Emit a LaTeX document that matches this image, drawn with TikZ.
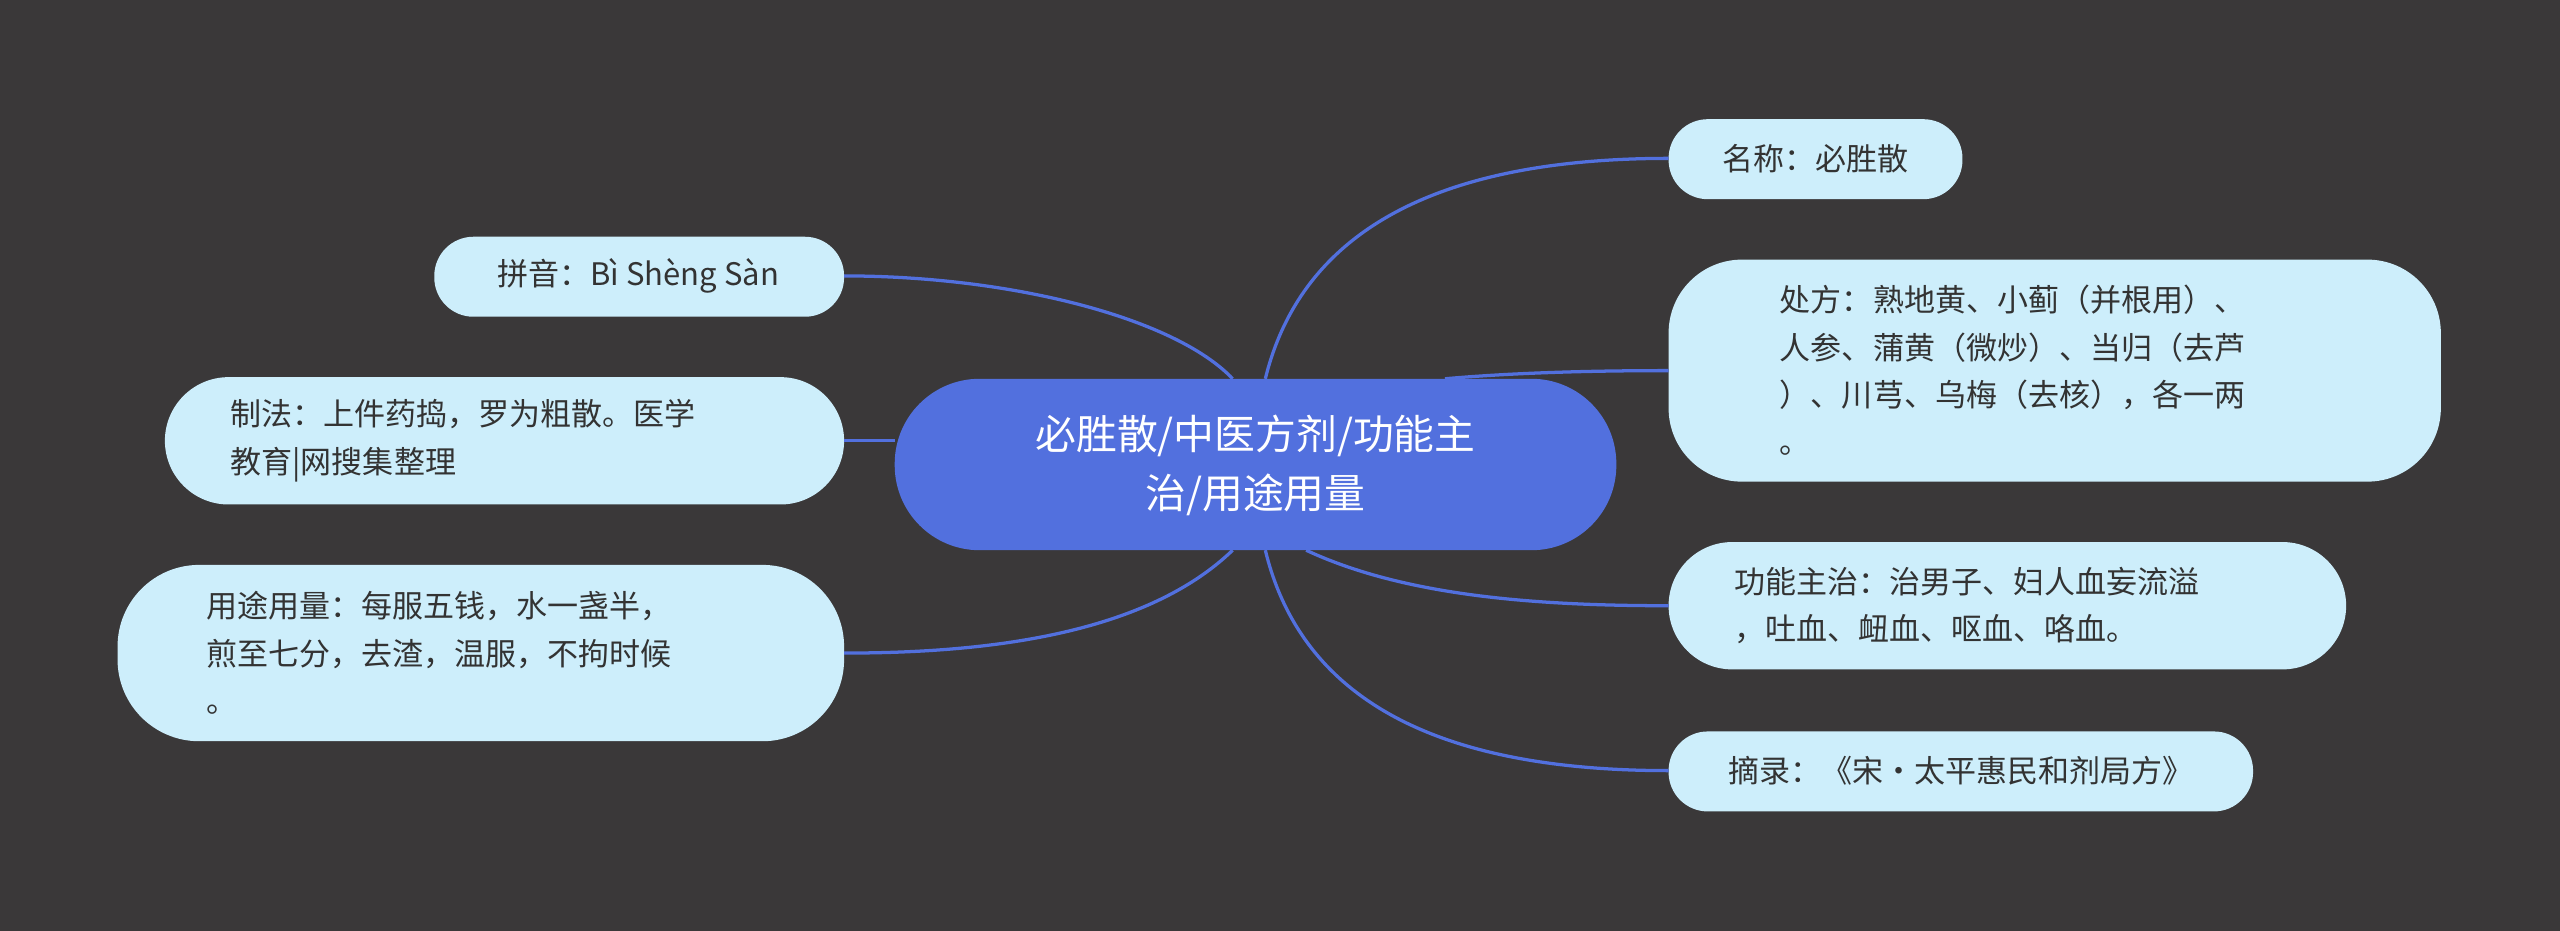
\documentclass[tikz,border=0pt]{standalone}
\usepackage{fontspec}
\setmainfont{Noto Sans CJK SC}
\begin{document}
\begin{tikzpicture}[x=1pt,y=-1pt,
  leaf/.style={fill=leafc,draw=none,text=txt,font=\fontsize{19}{29}\selectfont,align=left,inner sep=0pt},
  link/.style={draw=linec,line width=2pt}]
\definecolor{bgc}{HTML}{3A3839}
\definecolor{leafc}{HTML}{CDEEFB}
\definecolor{linec}{HTML}{5270DE}
\definecolor{cen}{HTML}{5270DE}
\definecolor{txt}{HTML}{333333}
\fill[bgc] (0,0) rectangle (1568,570);
\useasboundingbox (0,0) rectangle (1568,570);
% boxes
\fill[leafc,rounded corners=24] (1022,73) rectangle (1202,122);
\fill[leafc,rounded corners=45] (1022,159) rectangle (1495,295);
\fill[leafc,rounded corners=39] (1022,332) rectangle (1437,410);
\fill[leafc,rounded corners=24] (1022,448) rectangle (1380,497);
\fill[leafc,rounded corners=24] (266,145) rectangle (517,194);
\fill[leafc,rounded corners=39] (101,231) rectangle (517,309);
\fill[leafc,rounded corners=50] (72,346) rectangle (517,454);
\fill[cen,rounded corners=52] (548,232) rectangle (990,337);
% connector anchors
\coordinate (c1) at (775,232); \coordinate (c2) at (885,232);
\coordinate (c3) at (800,337); \coordinate (c4) at (775,337);
\coordinate (c5) at (755,232); \coordinate (c6) at (548,270);
\coordinate (c7) at (755,337);
\coordinate (r1) at (1022,97); \coordinate (r2) at (1022,227);
\coordinate (r3) at (1022,371); \coordinate (r4) at (1022,472);
\coordinate (l1) at (517,169); \coordinate (l2) at (517,270);
\coordinate (l3) at (517,400);
\draw[link] (c1) .. controls (800,130) and (900,97) .. (r1);
\draw[link] (c2) .. controls (930,228) and (980,227) .. (r2);
\draw[link] (c3) .. controls (860,365) and (940,371) .. (r3);
\draw[link] (c4) .. controls (800,440) and (900,472) .. (r4);
\draw[link] (c5) .. controls (720,195) and (620,169) .. (l1);
\draw[link] (c6) -- (l2);
\draw[link] (c7) .. controls (700,390) and (600,400) .. (l3);
% texts
\node[text=white,font=\fontsize{25}{36}\selectfont,align=center] (center) at (769,285) {必胜散/中医方剂/功能主\\治/用途用量};
\node[leaf,fill=none] (n1) at (1112,97) {名称：必胜散};
\node[leaf,fill=none,anchor=west] (n2) at (1090,227) {处方：熟地黄、小蓟（并根用）、\\人参、蒲黄（微炒）、当归（去芦\\）、川芎、乌梅（去核），各一两\\。};
\node[leaf,fill=none,anchor=west] (n3) at (1062,371) {功能主治：治男子、妇人血妄流溢\\，吐血、衄血、呕血、咯血。};
\node[leaf,fill=none] (n4) at (1201,472) {摘录：《宋·太平惠民和剂局方》};
\node[leaf,fill=none] (n5) at (391,169) {拼音：Bì Shèng Sàn};
\node[leaf,fill=none,anchor=west] (n6) at (141,270) {制法：上件药捣，罗为粗散。医学\\教育|网搜集整理};
\node[leaf,fill=none,anchor=west] (n7) at (126,400) {用途用量：每服五钱，水一盏半，\\煎至七分，去渣，温服，不拘时候\\。};
\end{tikzpicture}
\end{document}
